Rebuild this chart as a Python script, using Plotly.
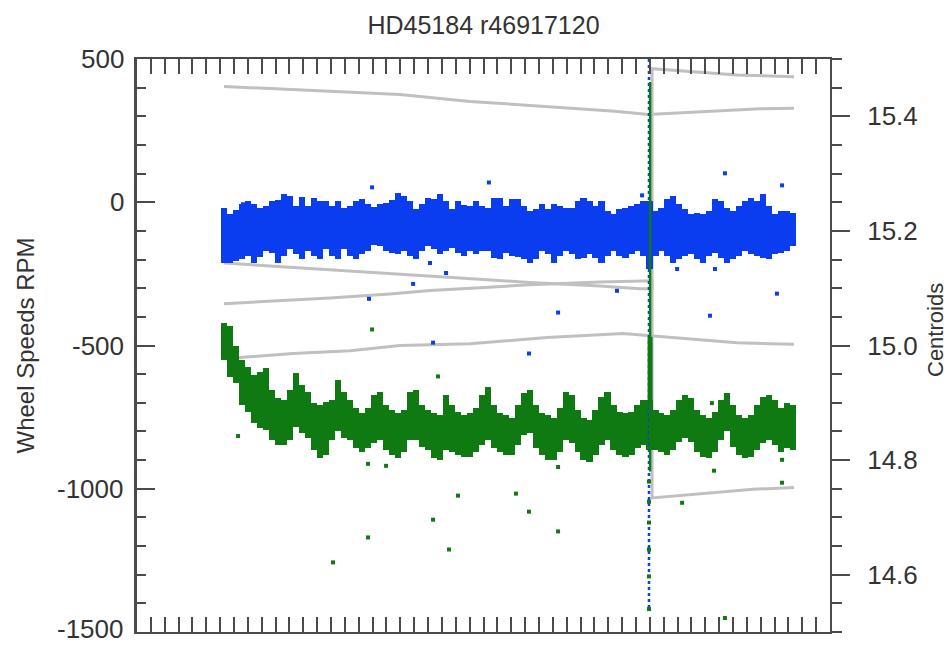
import numpy as np
import plotly.graph_objects as go

# ---- sample grid (seconds) ----
T0, DT = 630.0, 43.2
N = 96
t = T0 + DT * np.arange(N)

# ---- wheel speed envelopes per sample bin (RPM) ----
wheel1_hi = [-21, -42, -28, -7, 3, -7, -21, -14, 3, 7, 28, 21, -14, 17, -14, 14, 3, 3, -14, 3,
             -21, -14, 3, 10, -7, -17, -7, -3, 7, 31, 21, 3, -24, -7, 14, 10, 28, 3, -24, 3,
             -10, -14, 3, -14, -21, 14, 14, -14, 10, 10, -14, -31, -24, -7, -24, -7, -14, -21, -21, 3,
             14, 3, -14, 3, -31, -42, -24, -21, -14, -7, 3, 3, -31, -21, 10, 21, -7, -24, -42, -38,
             -42, -31, 10, 3, -21, -31, -14, 3, 14, 3, 28, -14, -42, -31, -31, -38]
wheel1_lo = [-212, -212, -205, -198, -188, -212, -191, -170, -177, -212, -188, -163, -181, -198, -170, -188, -198, -163, -188, -198,
             -163, -188, -198, -181, -170, -149, -153, -170, -177, -181, -170, -188, -198, -170, -153, -163, -181, -170, -160, -177,
             -188, -170, -181, -170, -170, -194, -198, -177, -188, -191, -198, -212, -198, -170, -181, -212, -188, -170, -181, -198,
             -194, -181, -194, -212, -188, -170, -188, -194, -181, -170, -188, -233, -188, -170, -188, -212, -198, -188, -181, -198,
             -212, -188, -177, -194, -212, -198, -188, -170, -181, -188, -194, -198, -181, -177, -170, -153]

wheel2_hi = [-420, -431, -500, -552, -576, -604, -594, -580, -656, -684, -691, -656, -597, -639, -663, -701, -708, -698, -691, -622,
             -663, -691, -719, -736, -719, -674, -663, -708, -726, -736, -726, -663, -656, -708, -726, -736, -743, -674, -708, -733,
             -743, -736, -719, -674, -646, -708, -736, -743, -753, -708, -667, -656, -708, -736, -743, -753, -719, -663, -674, -726,
             -753, -760, -726, -680, -663, -708, -733, -736, -733, -708, -691, -691, -726, -736, -743, -726, -691, -674, -684, -726,
             -743, -753, -733, -691, -667, -708, -743, -753, -743, -708, -680, -674, -691, -719, -701, -708]
wheel2_lo = [-552, -611, -632, -708, -733, -771, -788, -795, -830, -847, -847, -830, -785, -806, -823, -865, -892, -882, -830, -799,
             -823, -830, -858, -872, -858, -840, -830, -865, -882, -892, -872, -830, -830, -854, -865, -892, -899, -865, -872, -882,
             -889, -889, -872, -847, -830, -858, -872, -882, -882, -847, -813, -806, -858, -882, -899, -899, -872, -830, -840, -872,
             -899, -906, -882, -847, -830, -865, -882, -889, -882, -858, -847, -865, -865, -872, -882, -865, -837, -823, -837, -872,
             -889, -892, -872, -830, -799, -854, -882, -892, -889, -865, -840, -830, -847, -872, -858, -865]

# ---- isolated samples ----
blue_pts_t = [765, 1696, 2539, 2114, 2230, 1992, 1674, 3463, 3038, 4242, 4654, 3897, 4170, 4617, 4134, 3644, 2136, 2828]
blue_pts_v = [-7, 52, 69, -212, -247, -285, -337, -309, -385, 101, 59, -233, -233, -319, -396, 24, -490, -528]
green_pts_t = [1696, 729, 1667, 1797, 2172, 2316, 2136, 1667, 2251, 1414, 2734, 2828, 3038, 3038, 3933, 4148, 4163, 4654, 4654, 4242,
               3694, 3694, 3694, 3694, 3694, 3694]
green_pts_v = [-444, -816, -913, -920, -608, -1024, -1108, -1170, -1212, -1257, -1017, -1080, -1149, -924, -1049, -701, -937, -899, -979, -1451,
               -975, -1045, -1118, -1212, -1306, -1420]

# ---- event at t = 3694 s ----
EVENT_T = 3694
blue_event = [500, -1425]
green_event = [420, -940]
green_event_core = [-470, -700]

# ---- centroid tracks ----
c1_t = [628, 887, 1392, 1898, 2403, 2980, 3449, 3687, 4062, 4495, 4740]
c1_v = [15.452, 15.449, 15.443, 15.438, 15.426, 15.416, 15.409, 15.403, 15.408, 15.413, 15.414]
c2_t = [628, 1176, 1753, 2330, 2835, 3341, 3629, 3716, 3716, 3939, 4329, 4740]
c2_v = [15.144, 15.136, 15.127, 15.118, 15.110, 15.104, 15.099, 15.099, 15.483, 15.479, 15.472, 15.469]
c3_t = [628, 1392, 1825, 2114, 2475, 2835, 3341, 3716, 3716, 4084, 4445, 4740]
c3_v = [15.073, 15.083, 15.090, 15.096, 15.101, 15.106, 15.111, 15.113, 14.734, 14.741, 14.749, 14.752]
c4_t = [628, 1126, 1537, 1898, 2403, 2958, 3506, 3968, 4329, 4567, 4740]
c4_v = [14.977, 14.986, 14.991, 15.000, 15.003, 15.014, 15.021, 15.012, 15.005, 15.003, 15.002]

rpm_ticks = [500, 0, -500, -1000, -1500]
rpm_labels = ["500", "0", "-500", "-1000", "-1500"]
cen_ticks = [14.6, 14.8, 15.0, 15.2, 15.4]
cen_labels = ["14.6", "14.8", "15.0", "15.2", "15.4"]

BLUE = "#0a3cf0"
GREEN = "#107a12"
GRAY = "#c0c0c0"
AX = "#4a4a4a"
TXT = "#333333"
FONT = "Liberation Sans, Arial, Helvetica, sans-serif"

# plot-area geometry in pixels
W, H = 951, 645
L, R, T, B = 137, 121, 59, 13
PW = W - L - R

fig = go.Figure()

for ct, cv in [(c1_t, c1_v), (c2_t, c2_v), (c3_t, c3_v), (c4_t, c4_v)]:
    fig.add_trace(go.Scatter(x=ct, y=cv, mode="lines", line=dict(color=GRAY, width=3),
                             yaxis="y", hoverinfo="skip", showlegend=False))

w1_hi = np.array(wheel1_hi, float)
w1_lo = np.array(wheel1_lo, float)
w2_hi = np.array(wheel2_hi, float)
w2_lo = np.array(wheel2_lo, float)

fig.add_trace(go.Bar(x=t, y=w1_hi - w1_lo, base=w1_lo, width=DT * 1.03, marker=dict(color=BLUE, line=dict(width=0)),
                     yaxis="y2", showlegend=False))
fig.add_trace(go.Bar(x=t, y=w2_hi - w2_lo, base=w2_lo, width=DT * 1.03, marker=dict(color=GREEN, line=dict(width=0)),
                     yaxis="y2", showlegend=False))

fig.add_trace(go.Scatter(x=[EVENT_T, EVENT_T], y=blue_event, mode="lines",
                         line=dict(color=BLUE, width=2.5, dash="dot"), yaxis="y2", showlegend=False))
fig.add_trace(go.Scatter(x=[EVENT_T + 8, EVENT_T + 8], y=green_event, mode="lines",
                         line=dict(color=GREEN, width=2.5), yaxis="y2", showlegend=False))
fig.add_trace(go.Scatter(x=[EVENT_T + 8, EVENT_T + 8], y=green_event_core, mode="lines",
                         line=dict(color=GREEN, width=5), yaxis="y2", showlegend=False))

fig.add_trace(go.Scatter(x=blue_pts_t, y=blue_pts_v, mode="markers",
                         marker=dict(color=BLUE, size=4, symbol="square"), yaxis="y2", showlegend=False))
fig.add_trace(go.Scatter(x=green_pts_t, y=green_pts_v, mode="markers",
                         marker=dict(color=GREEN, size=4, symbol="square"), yaxis="y2", showlegend=False))

# left-axis tick labels, right-aligned just outside the axis line
annotations = [
    dict(text=lab, xref="paper", yref="y2", x=-(L - 126) / PW, y=val, xanchor="right", yanchor="middle",
         yshift=(3 if val == rpm_ticks[-1] else 0),
         showarrow=False, font=dict(size=26, color=TXT))
    for val, lab in zip(rpm_ticks, rpm_labels)
]
annotations += [
    dict(text="Wheel Speeds RPM", xref="paper", yref="paper", x=-(L - 25) / PW,
         y=0.5, textangle=-90, showarrow=False, xanchor="center", yanchor="middle",
         font=dict(size=24, color=TXT)),
    dict(text="Centroids", xref="paper", yref="paper", x=1 + (935 - (W - R)) / PW,
         y=(H - B - 330) / (H - B - T), textangle=-90, showarrow=False, xanchor="center", yanchor="middle",
         font=dict(size=22, color=TXT)),
]

fig.update_layout(
    width=W, height=H,
    margin=dict(l=L, r=R, t=T, b=B, autoexpand=False),
    paper_bgcolor="white", plot_bgcolor="white",
    bargap=0, barmode="overlay",
    font=dict(family=FONT, color=TXT, size=26),
    title=dict(text="HD45184 r46917120", x=(L + W - R) / 2 / W, xanchor="center",
               y=1 - 25 / H, yanchor="middle", font=dict(size=25, color=TXT), automargin=False),
    xaxis=dict(range=[0, 5000], showgrid=False, zeroline=False, showline=True, linecolor=AX, linewidth=2,
               mirror="allticks", ticks="inside", ticklen=15, tickwidth=2, tickcolor=AX,
               tickvals=[0, 1000, 2000, 3000, 4000, 5000], showticklabels=False, automargin=False,
               minor=dict(dtick=100, ticks="inside", ticklen=7, tickwidth=1.5, tickcolor=AX, showgrid=False),
               anchor="y"),
    yaxis=dict(range=[14.5, 15.5], side="right", showgrid=False, zeroline=False, showline=True,
               linecolor=AX, linewidth=2, ticks="outside", ticklen=18, tickwidth=2, tickcolor=AX,
               tickvals=cen_ticks, ticktext=cen_labels, ticklabelstandoff=12, automargin=False,
               minor=dict(dtick=0.05, ticks="outside", ticklen=10, tickwidth=1.5, tickcolor=AX, showgrid=False),
               tickfont=dict(size=26, color=TXT)),
    yaxis2=dict(range=[-1500, 500], side="left", overlaying="y", showgrid=False, zeroline=False, showline=True,
                linecolor=AX, linewidth=3, ticks="inside", ticklen=18, tickwidth=2, tickcolor=AX,
                tickvals=rpm_ticks, showticklabels=False, automargin=False,
                minor=dict(dtick=100, ticks="inside", ticklen=9, tickwidth=1.5, tickcolor=AX, showgrid=False)),
    annotations=annotations,
)

fig.write_html("out.html")
